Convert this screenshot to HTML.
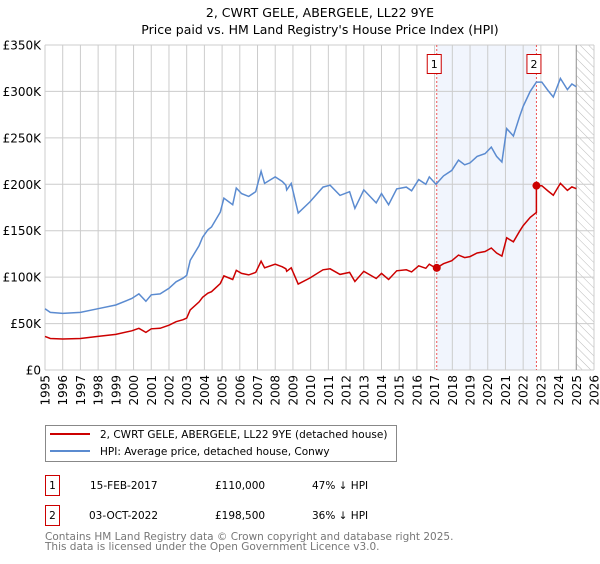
<!DOCTYPE html>
<html><head><meta charset="utf-8">
<style>
html,body{margin:0;padding:0;background:#fff;}
body{width:600px;height:560px;overflow:hidden;font-family:"DejaVu Sans","Liberation Sans",sans-serif;}
svg text{font-family:"DejaVu Sans","Liberation Sans",sans-serif;}
</style></head>
<body>
<svg id="chart" width="600" height="560" xmlns="http://www.w3.org/2000/svg">
<defs>
<pattern id="hatch" width="6" height="6" patternUnits="userSpaceOnUse" patternTransform="rotate(-45)">
<line x1="0" y1="0" x2="0" y2="6" stroke="#bbb" stroke-width="1"/>
</pattern>
</defs>
<text x="320" y="17" text-anchor="middle" font-size="12.5" fill="#000">2, CWRT GELE, ABERGELE, LL22 9YE</text>
<text x="320" y="34" text-anchor="middle" font-size="12.5" fill="#000">Price paid vs. HM Land Registry's House Price Index (HPI)</text>
<g id="grid"></g>
<g id="plot"></g>
<g id="axes"></g>
<rect x="45.5" y="425.5" width="351" height="36" fill="#fff" stroke="#888"/>
<line x1="50" y1="434" x2="90" y2="434" stroke="#cc0000" stroke-width="2"/>
<text x="100" y="438" font-size="10.5">2, CWRT GELE, ABERGELE, LL22 9YE (detached house)</text>
<line x1="50" y1="451" x2="90" y2="451" stroke="#5b8bd0" stroke-width="2"/>
<text x="100" y="455" font-size="10.5">HPI: Average price, detached house, Conwy</text>
<g font-size="10.5">
<rect x="45.5" y="475.5" width="14" height="20" fill="#fff" stroke="#cc0000"/>
<text x="52.5" y="489" text-anchor="middle">1</text>
<text x="90" y="489">15-FEB-2017</text>
<text x="215" y="489">£110,000</text>
<text x="312" y="489">47% ↓ HPI</text>
</g>
<g font-size="10.5">
<rect x="45.5" y="505.5" width="14" height="20" fill="#fff" stroke="#cc0000"/>
<text x="52.5" y="519" text-anchor="middle">2</text>
<text x="89" y="519">03-OCT-2022</text>
<text x="215" y="519">£198,500</text>
<text x="312" y="519">36% ↓ HPI</text>
</g>
<text x="45" y="540" font-size="10.5" fill="#777">Contains HM Land Registry data © Crown copyright and database right 2025.</text>
<text x="45" y="550" font-size="10.5" fill="#777">This data is licensed under the Open Government Licence v3.0.</text>
</svg>
<script>
const hpiYears=[1995.0,1995.3,1996.0,1997.0,1998.0,1999.0,1999.9,2000.3,2000.7,2001.0,2001.5,2002.0,2002.4,2002.8,2003.0,2003.2,2003.7,2003.9,2004.2,2004.4,2004.9,2005.1,2005.6,2005.8,2006.1,2006.5,2006.9,2007.2,2007.4,2008.0,2008.4,2008.6,2008.65,2008.9,2009.3,2009.96,2010.7,2011.1,2011.66,2012.2,2012.5,2013.0,2013.7,2014.0,2014.4,2014.86,2015.4,2015.7,2016.1,2016.5,2016.7,2017.08,2017.5,2017.97,2018.35,2018.7,2019.0,2019.4,2019.85,2020.2,2020.5,2020.8,2021.07,2021.45,2021.8,2022.0,2022.4,2022.75,2023.05,2023.4,2023.7,2024.1,2024.5,2024.75,2025.0];
const hpiValues=[66,62,61,62,66,70,77,82,74,81,82,88,95,99,102,118,134,143,151,154,170,185,178,196,190,187,192,214,201,208,203,199,194,201,169,181,197,199,188,192,174,194,180,190,178,195,197,193,205,200,208,200,209,215,226,221,223,230,233,240,230,224,260,252,273,284,300,310,310,301,294,314,302,308,305];
const saleYears=[2017.12,2022.75];
const salePrices=[110,198.5];
const yTicks=[0,50,100,150,200,250,300,350];
const yTickLabels=["£0","£50K","£100K","£150K","£200K","£250K","£300K","£350K"];
const xTicks=[1995,1996,1997,1998,1999,2000,2001,2002,2003,2004,2005,2006,2007,2008,2009,2010,2011,2012,2013,2014,2015,2016,2017,2018,2019,2020,2021,2022,2023,2024,2025,2026];

const NS="http://www.w3.org/2000/svg";
const L=45,R=594,T=45,B=370,X0=1995,X1=2026,YMAX=350;
const sx=y=>L+(y-X0)/(X1-X0)*(R-L);
const sy=v=>B-v/YMAX*(B-T);
function mk(tag,attrs,parent){const e=document.createElementNS(NS,tag);for(const k in attrs)e.setAttribute(k,attrs[k]);parent.appendChild(e);return e;}
const grid=document.getElementById('grid'),plot=document.getElementById('plot'),axes=document.getElementById('axes');

// shaded sale period
let sh=mk('rect',{x:sx(saleYears[0]),y:T,width:sx(saleYears[1])-sx(saleYears[0]),height:B-T,fill:'#eef3fc',opacity:0.8},grid);


// hatched future
let ht=mk('rect',{x:sx(2025),y:T,width:R-sx(2025),height:B-T,fill:'url(#hatch)'},grid);



yTicks.forEach((v,i)=>{
  let g=mk('line',{x1:L,x2:R,y1:sy(v),y2:sy(v),stroke:'#ccc','stroke-width':1},grid);
  
  
  let t=mk('text',{x:L-4,y:sy(v)+4.5,'text-anchor':'end','font-size':12},axes);
  t.textContent=yTickLabels[i];
  
  
});
xTicks.forEach(y=>{
  let g=mk('line',{x1:sx(y),x2:sx(y),y1:T,y2:B,stroke:'#ccc','stroke-width':1},grid);
  
  
  let t=mk('text',{x:0,y:0,'text-anchor':'end','font-size':12,transform:`translate(${sx(y)+4.5},${B+5}) rotate(-90)`},axes);
  t.textContent=y;
  
  
});
let fl=mk('line',{x1:sx(2025),x2:sx(2025),y1:T,y2:B,stroke:'#999','stroke-width':1},grid);



// sale markers lines
saleYears.forEach((y,i)=>{
  let d=mk('line',{x1:sx(y),x2:sx(y),y1:T,y2:B,stroke:'#ee5555','stroke-width':1,'stroke-dasharray':'2,2'},grid);
  
  
  let bx=mk('rect',{x:sx(y)-9.5,y:54.5,width:14,height:19,fill:'#fff',stroke:'#cc0000'},axes);
  
  
  let t=mk('text',{x:sx(y)-2.5,y:68,'text-anchor':'middle','font-size':11},axes);
  t.textContent=String(i+1);
  
  
});

function hpiAt(y){for(let i=1;i<hpiYears.length;i++){if(y<=hpiYears[i]){const f=(y-hpiYears[i-1])/(hpiYears[i]-hpiYears[i-1]);return hpiValues[i-1]+f*(hpiValues[i]-hpiValues[i-1]);}}return hpiValues[hpiValues.length-1];}

// blue HPI line
let bp=hpiYears.map((y,i)=>sx(y).toFixed(1)+','+sy(hpiValues[i]).toFixed(1)).join(' ');
let bl=mk('polyline',{points:bp,fill:'none',stroke:'#5b8bd0','stroke-width':1.5},plot);



// red property line: HPI scaled by ratio anchored at sales
const r0=salePrices[0]/hpiAt(saleYears[0]), r1=salePrices[1]/hpiAt(saleYears[1]);
let rpts=[];
hpiYears.forEach((y,i)=>{
  if(y<saleYears[1]) rpts.push([y,hpiValues[i]*r0]);
  if(y<saleYears[1] && (i+1>=hpiYears.length || hpiYears[i+1]>=saleYears[1])){
    rpts.push([saleYears[1],hpiAt(saleYears[1])*r0]);
    rpts.push([saleYears[1],salePrices[1]]);
  }
  if(y>saleYears[1]) rpts.push([y,hpiValues[i]*r1]);
});
let rl=mk('polyline',{points:rpts.map(p=>sx(p[0]).toFixed(1)+','+sy(p[1]).toFixed(1)).join(' '),fill:'none',stroke:'#cc0000','stroke-width':1.5},plot);



saleYears.forEach((y,i)=>{
  let c=mk('circle',{cx:sx(y),cy:sy(salePrices[i]),r:4,fill:'#cc0000'},plot);
  
  
});
</script>
</body></html>
